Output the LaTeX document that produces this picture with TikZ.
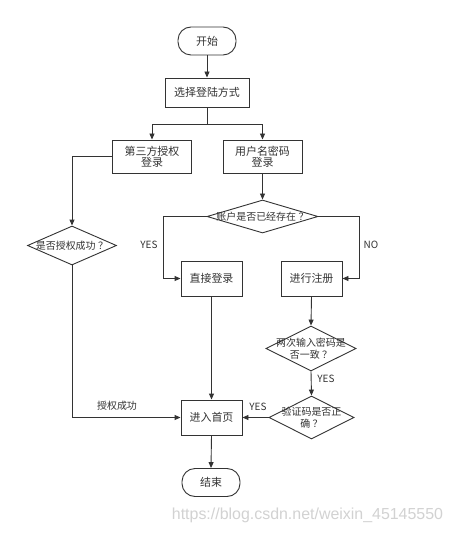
\documentclass[tikz,border=0pt]{standalone}
\usepackage{fontspec}
\setmainfont{Noto Sans CJK SC}
\newfontfamily\wmfont{Liberation Sans}
\usetikzlibrary{shapes.geometric,arrows.meta}
\definecolor{ln}{HTML}{333333}
\newcommand{\qm}{\hspace{2.5bp}？}
\tikzset{
  base/.style={draw=ln, line width=0.9bp, text=ln, inner sep=0pt, font=\fontsize{11}{13}\selectfont, align=center},
  term/.style={base, rounded corners=13bp, minimum width=58bp, minimum height=28bp},
  proc/.style={base, rectangle},
  dec/.style={draw=ln, line width=0.9bp, diamond, inner sep=0pt},
  dtext/.style={text=ln, font=\fontsize{10}{12.5}\selectfont, align=center, inner sep=0pt},
  lab/.style={text=ln, font=\fontsize{10}{12}\selectfont, inner sep=0pt},
  arr/.style={draw=ln, line width=0.9bp, -{Triangle[length=6bp,width=5bp]}},
  ln/.style={draw=ln, line width=0.9bp},
}
\begin{document}
\begin{tikzpicture}[x=1bp,y=-1bp]
\useasboundingbox (0,0) rectangle (453,533);
\fill[white] (0,0) rectangle (453,533);
\node[term] (start) at (207,41) {开始};
\node[proc, minimum width=84bp, minimum height=29bp] (sel) at (207,92.5) {选择登陆方式};
\node[proc, minimum width=79bp, minimum height=33bp] (third) at (152,156.5) {第三方授权\\[-2pt]登录};
\node[proc, minimum width=79bp, minimum height=33bp] (user) at (262.5,156.5) {用户名密码\\[-2pt]登录};
\node[dec, minimum width=89bp, minimum height=39bp] (d1) at (72,245.5) {};
\node[dtext] (d1t) at (d1.center) {是否授权成功\qm};
\node[dec, minimum width=111bp, minimum height=33bp] (d2) at (262.5,216.5) {};
\node[dtext] (d2t) at (d2.center) {账户是否已经存在\qm};
\node[proc, minimum width=61bp, minimum height=35bp] (direct) at (211.5,278.5) {直接登录};
\node[proc, minimum width=61bp, minimum height=35bp] (reg) at (311.5,278.5) {进行注册};
\node[dec, minimum width=90bp, minimum height=45bp] (d3) at (311,348.5) {};
\node[dtext] (d3t) at (d3.center) {两次输入密码是\\否一致\qm};
\node[dec, minimum width=85bp, minimum height=43bp] (d4) at (311.5,417.5) {};
\node[dtext] (d4t) at (d4.center) {验证码是否正\\确\qm};
\node[proc, minimum width=61bp, minimum height=35bp] (home) at (211.5,417.5) {进入首页};
\node[term] (end) at (211,482.5) {结束};
\coordinate (j) at (207,124);
\coordinate (yc) at (163.5,278.5);
\coordinate (nc) at (359.5,278.5);
\draw[arr] (start) -- (sel);
\draw[ln] (sel.south) -- (j);
\draw[arr] (j) -| (third.north);
\draw[arr] (j) -| (user.north);
\draw[arr] (third.west) -| (d1.north);
\draw[arr] (user.south) -- (d2.north);
\draw[arr] (d2.west) -| (yc) -- (direct.west);
\draw[arr] (d2.east) -| (nc) -- (reg.east);
\draw[arr] (reg.south) -- (d3.north);
\draw[arr] (d3.south) -- (d4.north);
\draw[arr] (d4.west) -- (home.east);
\draw[arr] (direct.south) -- (home.north);
\draw[arr] (d1.south) |- (home.west);
\draw[arr] (home.south) -- (end.north);
\node[lab] (yes1) at (149,245) {YES};
\node[lab] (no1) at (371,245) {NO};
\node[lab] (yes2) at (326,379) {YES};
\node[lab] (yes3) at (258,407) {YES};
\node[lab] (ok) at (117,406) {授权成功};
\node[text=gray!35, font=\wmfont\fontsize{16}{18}\selectfont, inner sep=0pt] (wm) at (307.5,515) {https://blog.csdn.net/weixin\_45145550};
\end{tikzpicture}
\end{document}
